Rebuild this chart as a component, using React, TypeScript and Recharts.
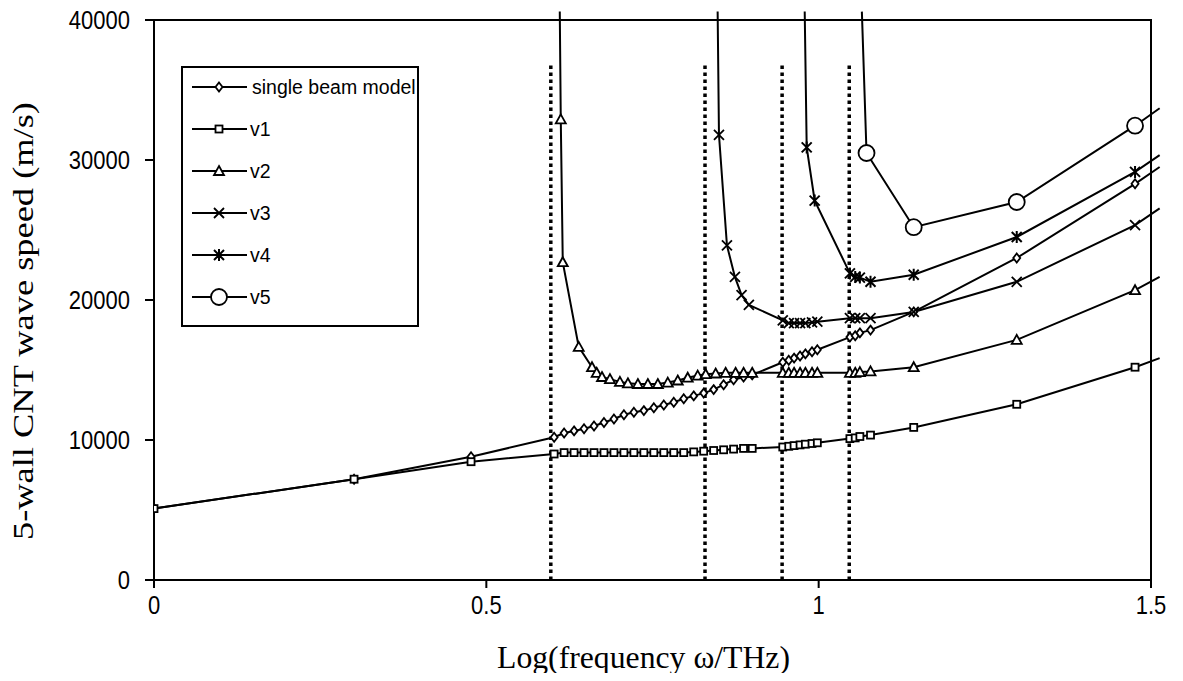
import React from "react";
import { LineChart, Line, XAxis, YAxis, ReferenceLine, ReferenceArea, Legend, Label } from "recharts";

type Pt = [number, number];

// x = log10(frequency / THz), y = wave speed (m/s)
const singleBeam: Pt[] = [
  [0, 5100], [0.301, 7200], [0.477, 8800], [0.602, 10200], [0.617, 10500], [0.632, 10650],
  [0.647, 10800], [0.662, 11000], [0.677, 11250], [0.692, 11500], [0.707, 11800], [0.722, 11980],
  [0.737, 12100], [0.752, 12300], [0.767, 12500], [0.782, 12700], [0.797, 12950], [0.812, 13150],
  [0.827, 13350], [0.842, 13600], [0.857, 13950], [0.872, 14300], [0.887, 14500], [0.9, 14650],
  [0.946, 15550], [0.955, 15700], [0.963, 15850], [0.972, 16000], [0.98, 16150], [0.99, 16300],
  [0.998, 16450], [1.047, 17350], [1.055, 17450], [1.062, 17650], [1.078, 17850],
  [1.143, 19150], [1.298, 23000], [1.476, 28300], [1.513, 29500],
];

const v1: Pt[] = [
  [0, 5100], [0.301, 7200], [0.477, 8450], [0.602, 9000], [0.617, 9100], [0.632, 9100],
  [0.647, 9100], [0.662, 9100], [0.677, 9100], [0.692, 9100], [0.707, 9100], [0.722, 9100],
  [0.737, 9100], [0.752, 9100], [0.767, 9100], [0.782, 9100], [0.797, 9100], [0.812, 9150],
  [0.827, 9200], [0.842, 9250], [0.857, 9300], [0.872, 9350], [0.887, 9400], [0.9, 9400],
  [0.946, 9500], [0.955, 9550], [0.963, 9600], [0.972, 9650], [0.98, 9700], [0.99, 9750],
  [0.998, 9800], [1.047, 10100], [1.055, 10150], [1.062, 10250], [1.078, 10350],
  [1.143, 10900], [1.298, 12550], [1.476, 15200], [1.513, 15850],
];

const v2: Pt[] = [
  [0.6105, 40600], [0.612, 32900], [0.615, 22700], [0.639, 16650], [0.659, 15200], [0.666, 14800],
  [0.674, 14500], [0.686, 14350], [0.701, 14150], [0.713, 14050], [0.728, 14000], [0.743, 14000],
  [0.758, 14000], [0.773, 14100], [0.788, 14250], [0.803, 14450], [0.818, 14600], [0.83, 14700],
  [0.845, 14750], [0.86, 14800], [0.875, 14800], [0.887, 14800], [0.9, 14800],
  [0.946, 14800], [0.955, 14800], [0.963, 14800], [0.972, 14800], [0.98, 14800], [0.99, 14800],
  [0.998, 14800], [1.047, 14800], [1.055, 14800], [1.062, 14850], [1.078, 14900],
  [1.143, 15200], [1.298, 17150], [1.476, 20700], [1.513, 21650],
];

const v3: Pt[] = [
  [0.848, 40600], [0.85, 31800], [0.862, 23900], [0.874, 21650], [0.884, 20350], [0.895, 19650],
  [0.946, 18550], [0.955, 18350], [0.963, 18350], [0.972, 18350], [0.98, 18350], [0.99, 18400],
  [0.998, 18450], [1.047, 18700], [1.055, 18700], [1.062, 18700], [1.078, 18700],
  [1.143, 19150], [1.298, 21300], [1.476, 25350], [1.513, 26550],
];

const v4: Pt[] = [
  [0.979, 40600], [0.982, 30900], [0.994, 27100], [1.047, 21900], [1.055, 21650], [1.062, 21600],
  [1.078, 21300], [1.143, 21800], [1.298, 24500], [1.476, 29150], [1.513, 30350],
];

const v5: Pt[] = [
  [1.065, 40600], [1.072, 30500], [1.143, 25200], [1.298, 27000], [1.476, 32450], [1.513, 33700],
];

const cutoffs = [0.597, 0.829, 0.945, 1.046];
const cutoffTop = 37000;
const xTicks = [0, 0.5, 1, 1.5];
const yTicks = [0, 10000, 20000, 30000, 40000];

type Kind = "diamond" | "square" | "triangle" | "cross" | "star" | "circle";

const series: { name: string; points: Pt[]; kind: Kind }[] = [
  { name: "single beam model", points: singleBeam, kind: "diamond" },
  { name: "v1", points: v1, kind: "square" },
  { name: "v2", points: v2, kind: "triangle" },
  { name: "v3", points: v3, kind: "cross" },
  { name: "v4", points: v4, kind: "star" },
  { name: "v5", points: v5, kind: "circle" },
];

const SANS = "'Liberation Sans', Arial, sans-serif";
const SERIF = "'Liberation Serif', 'Times New Roman', serif";

function Marker({ kind, cx, cy }: { kind: Kind; cx: number; cy: number }) {
  const s = { stroke: "#000", strokeWidth: 1.8, fill: "#fff" };
  switch (kind) {
    case "diamond":
      return <polygon points={`${cx},${cy - 4.5} ${cx + 3.5},${cy} ${cx},${cy + 4.5} ${cx - 3.5},${cy}`} {...s} />;
    case "square":
      return <rect x={cx - 3.5} y={cy - 3.5} width={7} height={7} {...s} />;
    case "triangle":
      return <polygon points={`${cx},${cy - 5} ${cx + 5},${cy + 4} ${cx - 5},${cy + 4}`} {...s} />;
    case "cross":
      return <path d={`M${cx - 5},${cy - 5}L${cx + 5},${cy + 5}M${cx - 5},${cy + 5}L${cx + 5},${cy - 5}`} stroke="#000" strokeWidth={1.8} />;
    case "star":
      return (
        <path
          d={`M${cx - 5},${cy - 5}L${cx + 5},${cy + 5}M${cx - 5},${cy + 5}L${cx + 5},${cy - 5}M${cx},${cy - 6}L${cx},${cy + 6}`}
          stroke="#000"
          strokeWidth={2}
        />
      );
    default:
      return <circle cx={cx} cy={cy} r={8} {...s} />;
  }
}

// no marker on the points that run past the plot frame
const makeDot = (kind: Kind) => (p: any) => {
  const { cx, cy, payload, index } = p;
  if (payload.x > 1.5 || payload.y > 40000) return <g key={index} />;
  return (
    <g key={index}>
      <Marker kind={kind} cx={cx} cy={cy} />
    </g>
  );
};

const XTick = ({ x, y, payload }: any) => (
  <text
    transform={`translate(${x}, ${y + 24}) scale(1, 1.15)`}
    textAnchor="middle"
    fontSize={22}
    fontFamily={SANS}
    fill="#000"
  >
    {payload.value}
  </text>
);

const YTick = ({ x, y, payload }: any) => (
  <text
    transform={`translate(${x - 13}, ${y + 9}) scale(1, 1.15)`}
    textAnchor="end"
    fontSize={22}
    fontFamily={SANS}
    fill="#000"
  >
    {payload.value}
  </text>
);

const XLabel = ({ viewBox }: any) => {
  const cx = viewBox.x + viewBox.width / 2 - 9;
  const by = viewBox.y + 88;
  return (
    <text
      transform={`translate(${cx}, ${by}) scale(1, 1.15)`}
      textAnchor="middle"
      fontSize={28}
      fontFamily={SERIF}
      textLength={293}
      lengthAdjust="spacingAndGlyphs"
      fill="#000"
    >
      Log(frequency ω/THz)
    </text>
  );
};

const YLabel = ({ viewBox }: any) => {
  const cx = viewBox.x + 29;
  const cy = viewBox.y + viewBox.height / 2 + 21;
  return (
    <text
      x={cx}
      y={cy}
      transform={`rotate(-90, ${cx}, ${cy})`}
      textAnchor="middle"
      fontSize={30}
      fontFamily={SERIF}
      textLength={438}
      lengthAdjust="spacingAndGlyphs"
      fill="#000"
    >
      5-wall CNT wave speed (m/s)
    </text>
  );
};

const LegendBox = () => (
  <svg width={240} height={262} style={{ display: "block" }}>
    <rect x={1} y={1} width={236} height={259} fill="#fff" stroke="#000" strokeWidth={2} />
    {series.map((s, i) => {
      const cy = 21 + i * 42;
      return (
        <g key={s.name}>
          <line x1={11} x2={66} y1={cy} y2={cy} stroke="#000" strokeWidth={2} />
          <Marker kind={s.kind} cx={38} cy={cy} />
          <text x={i === 0 ? 71 : 69} y={cy + 7} fontSize={19.5} fontFamily={SANS} fill="#000">
            {s.name}
          </text>
        </g>
      );
    })}
  </svg>
);

export default function App() {
  return (
    <div style={{ margin: -8, background: "#fff", width: 1183, height: 681 }}>
      <style>{`.recharts-line, .recharts-line * { clip-path: none !important; }`}</style>
      <LineChart width={1183} height={681} margin={{ top: 20, right: 32, bottom: 41, left: 4 }}>
        <XAxis
          type="number"
          dataKey="x"
          domain={[0, 1.5]}
          ticks={xTicks}
          allowDataOverflow
          height={60}
          tickSize={8}
          stroke="#000"
          strokeWidth={2}
          tick={<XTick />}
          label={<Label content={<XLabel />} />}
        />
        <YAxis
          type="number"
          domain={[0, 40000]}
          ticks={yTicks}
          allowDataOverflow
          width={150}
          tickSize={9}
          stroke="#000"
          strokeWidth={2}
          tick={<YTick />}
          label={<Label content={<YLabel />} />}
        />
        <ReferenceArea x1={0} x2={1.5} y1={0} y2={40000} fill="none" stroke="#000" strokeWidth={2} />
        {cutoffs.map((c) => (
          <ReferenceLine
            key={c}
            segment={[{ x: c, y: 0 }, { x: c, y: cutoffTop }]}
            stroke="#000"
            strokeWidth={3.5}
            strokeDasharray="3.5 3.5"
          />
        ))}
        {series.map((s) => (
          <Line
            key={s.name}
            name={s.name}
            data={s.points.map(([x, y]) => ({ x, y }))}
            dataKey="y"
            type="linear"
            stroke="#000"
            strokeWidth={2}
            dot={makeDot(s.kind)}
            activeDot={false}
            isAnimationActive={false}
          />
        ))}
        <Legend
          layout="vertical"
          align="center"
          verticalAlign="middle"
          content={<LegendBox />}
          wrapperStyle={{ position: "absolute", left: 181, top: 66, width: 240, height: 262 }}
        />
      </LineChart>
    </div>
  );
}
